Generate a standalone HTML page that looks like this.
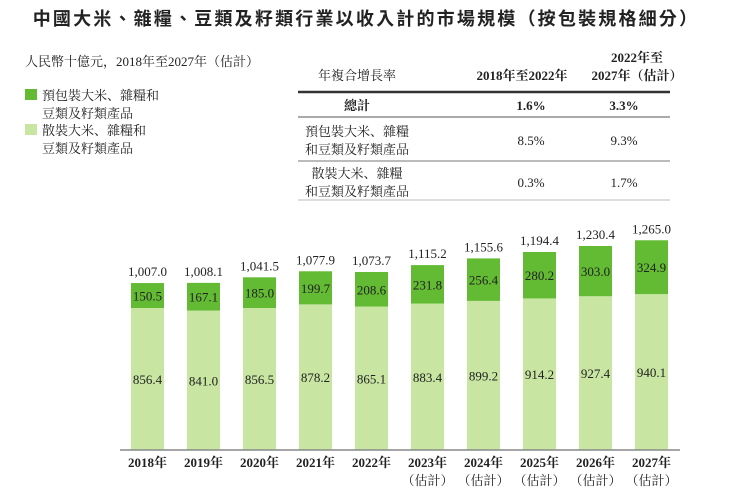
<!DOCTYPE html>
<html><head><meta charset="utf-8"><style>
body{margin:0;background:#fff;}
svg{display:block;}
text{font-family:"Liberation Serif","Noto Serif CJK SC","Noto Sans CJK TC",serif;fill:#222;}
</style></head><body>
<svg id="c" width="732" height="494" viewBox="0 0 732 494" xmlns="http://www.w3.org/2000/svg">
<text x="366" y="25" text-anchor="middle" font-size="18" font-weight="bold" style="font-family:'Liberation Sans','Noto Sans CJK TC',sans-serif;letter-spacing:2.2px">中國大米、雜糧、豆類及籽類行業以收入計的市場規模（按包裝規格細分）</text>
<text x="25" y="66" font-size="13">人民幣十億元，2018年至2027年（估計）</text>
<g>
<rect x="25" y="89" width="12" height="11" fill="#62bb33"/>
<text x="42" y="100" font-size="13">預包裝大米、雜糧和</text>
<text x="42" y="118" font-size="13">豆類及籽類產品</text>
<rect x="25" y="124" width="12" height="11" fill="#c8e6a2"/>
<text x="42" y="135" font-size="13">散裝大米、雜糧和</text>
<text x="42" y="153" font-size="13">豆類及籽類產品</text>
</g>
<g font-size="13">
<text x="357" y="80" text-anchor="middle">年複合增長率</text>
<text x="522" y="80" text-anchor="middle" font-weight="bold">2018年至2022年</text>
<text x="637" y="62" text-anchor="middle" font-weight="bold">2022年至</text>
<text x="637" y="80" text-anchor="middle" font-weight="bold">2027年（估計）</text>
<line x1="298" y1="92" x2="670" y2="92" stroke="#333" stroke-width="2.5"/>
<text x="357" y="110" text-anchor="middle" font-weight="bold">總計</text>
<text x="531" y="110" text-anchor="middle" font-weight="bold">1.6%</text>
<text x="624" y="110" text-anchor="middle" font-weight="bold">3.3%</text>
<line x1="298" y1="117" x2="670" y2="117" stroke="#555" stroke-width="1"/>
<text x="357" y="136" text-anchor="middle">預包裝大米、雜糧</text>
<text x="357" y="154" text-anchor="middle">和豆類及籽類產品</text>
<text x="531" y="145" text-anchor="middle">8.5%</text>
<text x="624" y="145" text-anchor="middle">9.3%</text>
<line x1="298" y1="161" x2="670" y2="161" stroke="#777" stroke-width="1"/>
<text x="357" y="178" text-anchor="middle">散裝大米、雜糧</text>
<text x="357" y="196" text-anchor="middle">和豆類及籽類產品</text>
<text x="531" y="187" text-anchor="middle">0.3%</text>
<text x="624" y="187" text-anchor="middle">1.7%</text>
<line x1="298" y1="200" x2="670" y2="200" stroke="#bbb" stroke-width="1"/>
</g>
<g id="bars"></g>
<line x1="120" y1="450" x2="680" y2="450" stroke="#888" stroke-width="1.5"/>
</svg>
<script>
const years = ["2018年","2019年","2020年","2021年","2022年","2023年","2024年","2025年","2026年","2027年"];
const estimated = [false,false,false,false,false,true,true,true,true,true];
const bulk = [856.4,841.0,856.5,878.2,865.1,883.4,899.2,914.2,927.4,940.1];
const prepackaged = [150.5,167.1,185.0,199.7,208.6,231.8,256.4,280.2,303.0,324.9];
const totals = ["1,007.0","1,008.1","1,041.5","1,077.9","1,073.7","1,115.2","1,155.6","1,194.4","1,230.4","1,265.0"];
const NS="http://www.w3.org/2000/svg";
const g=document.getElementById('bars');
const base=450, k=0.1658, x0=147.5, pitch=56, bw=33;
const y=v=>base-v*k;
const xc=i=>x0+i*pitch;
function el(tag,attrs){const e=document.createElementNS(NS,tag);for(const a in attrs)e.setAttribute(a,attrs[a]);g.appendChild(e);return e;}
function txt(s,attrs){const e=el('text',attrs);e.textContent=s;return e;}
years.forEach((yr,i)=>{
  const b=bulk[i], p=prepackaged[i], cx=xc(i);
  const r1=el('rect',{x:cx-bw/2,y:y(b),width:bw,height:base-y(b),fill:'#c8e6a2'});
  
  
  const r2=el('rect',{x:cx-bw/2,y:y(b+p),width:bw,height:y(b)-y(b+p),fill:'#62bb33'});
  
  
  const t1=txt(b.toFixed(1),{x:cx,y:(y(b)+base)/2+5,'text-anchor':'middle','font-size':13});
  
  
  const t2=txt(p.toFixed(1),{x:cx,y:(y(b)+y(b+p))/2+5,'text-anchor':'middle','font-size':13});
  
  
  const t3=txt(totals[i],{x:cx,y:y(b+p)-7,'text-anchor':'middle','font-size':13});
  
  
  const t4=txt(yr,{x:cx,y:467,'text-anchor':'middle','font-size':13,'font-weight':'bold'});
  
  
  if(estimated[i]){
    const t5=txt('（估計）',{x:cx,y:485,'text-anchor':'middle','font-size':13});
    
    
  }
});
</script>
</body></html>
